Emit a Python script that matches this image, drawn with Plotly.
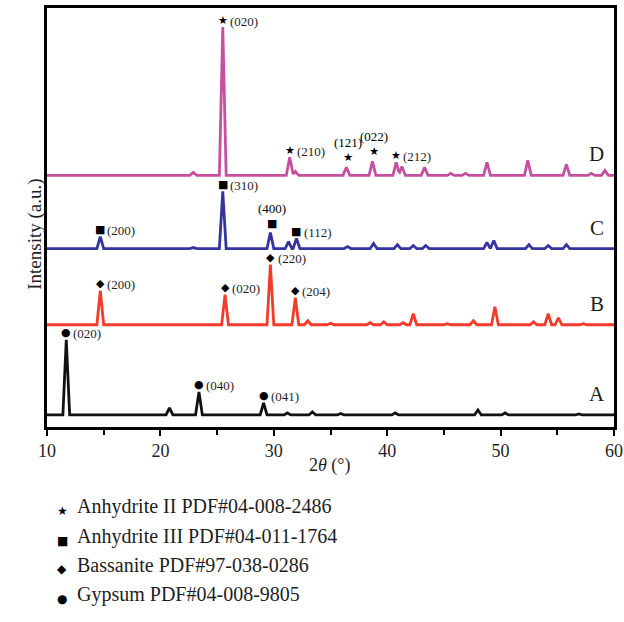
import numpy as np
import plotly.graph_objects as go

# ---- data (heights in arbitrary units) ----
two_theta_range = [10, 60]
series_names = ["A", "B", "C", "D"]
series_offsets = [12, 102, 178, 251]
series_colors = ["#111111", "#F23B2A", "#36349E", "#C6509F"]

peaks_A_pos = [11.7, 20.8, 23.4, 29.1, 31.2, 33.4, 35.9, 40.7, 48.0, 50.4, 56.9]
peaks_A_h = [75, 7, 23, 12, 2, 3, 1.5, 2, 5, 2, 1]

peaks_B_pos = [14.7, 25.7, 29.7, 31.9, 33.0, 35.0, 38.5, 39.7, 41.4, 42.3, 45.3, 47.6, 49.5, 52.9, 54.2, 55.1, 57.3]
peaks_B_h = [34, 30, 60, 27, 4, 1.5, 2, 3, 2, 11, 1, 4, 18, 3, 11, 7, 1]

peaks_C_pos = [14.7, 22.9, 25.5, 29.7, 31.3, 32.0, 36.5, 38.8, 40.9, 42.3, 43.4, 48.8, 49.4, 52.5, 54.2, 55.8]
peaks_C_h = [12, 1, 57, 16, 7, 10, 2, 5, 4, 3, 3, 6, 8, 4, 3, 4]

peaks_D_pos = [22.9, 25.5, 31.4, 31.9, 36.4, 38.7, 40.8, 41.3, 43.3, 45.6, 46.9, 48.8, 52.4, 55.8, 58.0, 59.2]
peaks_D_h = [3, 148, 18, 4, 8, 14, 13, 9, 8, 2, 2, 13, 15, 11, 2, 5]

# peak labels: (series index, 2theta, phase symbol, hkl, text above symbol?)
label_series = [3, 3, 3, 3, 3, 2, 2, 2, 2, 1, 1, 1, 1, 0, 0, 0]
label_pos = [25.5, 31.4, 36.4, 38.7, 40.8, 14.7, 25.5, 29.7, 32.0, 14.7, 25.7, 29.7, 31.9, 11.7, 23.4, 29.1]
label_sym = ["★", "★", "★", "★", "★", "■", "■", "■", "■", "◆", "◆", "◆", "◆", "●", "●", "●"]
label_hkl = ["(020)", "(210)", "(121)", "(022)", "(212)", "(200)", "(310)", "(400)", "(112)",
             "(200)", "(020)", "(220)", "(204)", "(020)", "(040)", "(041)"]
label_above = [False, False, True, True, False, False, False, True, False,
               False, False, False, False, False, False, False]

legend_symbols = ["★", "■", "◆", "●"]
legend_texts = ["Anhydrite II PDF#04-008-2486", "Anhydrite III PDF#04-011-1764",
                "Bassanite PDF#97-038-0286", "Gypsum PDF#04-008-9805"]

all_pos = [peaks_A_pos, peaks_B_pos, peaks_C_pos, peaks_D_pos]
all_h = [peaks_A_h, peaks_B_h, peaks_C_h, peaks_D_h]

HALF_W = 0.3
SERIF = "Liberation Serif, Times New Roman, serif"
TXT = "#1e1e1e"


def profile(pos, h, offset):
    # polyline vertices: baseline ends plus the feet and apex of each peak
    xs = [two_theta_range[0], two_theta_range[1]]
    for p in pos:
        xs += [p - HALF_W, p, p + HALF_W]
    xs = np.array(sorted(set(np.round(xs, 4))))
    ys = np.zeros_like(xs)
    for p, hh in zip(pos, h):
        ys += np.interp(xs, [p - HALF_W, p, p + HALF_W], [0, hh, 0], left=0, right=0)
    return xs, ys + offset


fig = go.Figure()
for i in range(4):
    x, y = profile(all_pos[i], all_h[i], series_offsets[i])
    fig.add_trace(go.Scatter(x=x, y=y, mode="lines",
                             line=dict(color=series_colors[i], width=2.8),
                             showlegend=False, hoverinfo="skip"))

annotations = []
# series letters
for i, name in enumerate(series_names):
    annotations.append(dict(x=58.5, y=series_offsets[i] + 21, xref="x", yref="y",
                            text=name, showarrow=False,
                            font=dict(family=SERIF, size=21, color=TXT)))

# peak labels
for s, p, sym, hkl, above in zip(label_series, label_pos, label_sym, label_hkl, label_above):
    h = all_h[s][all_pos[s].index(min(all_pos[s], key=lambda q: abs(q - p)))]
    top = series_offsets[s] + h
    sym_size = 11
    if above:
        annotations.append(dict(x=p + 0.1, y=top + 1, xref="x", yref="y", yanchor="bottom",
                                text=(f"<span style='font-size:13px;font-family:Liberation Serif'>{hkl}</span><br>"
                                      f"<span style='font-family:DejaVu Sans'>{sym}</span>"),
                                showarrow=False, align="center",
                                font=dict(family="DejaVu Sans", size=sym_size, color="black")))
    else:
        annotations.append(dict(x=p, y=top + 7, xref="x", yref="y", text=sym, showarrow=False,
                                font=dict(family="DejaVu Sans", size=sym_size, color="black")))
        annotations.append(dict(x=p + 0.45, y=top + 6, xref="x", yref="y", text=hkl, showarrow=False,
                                xanchor="left",
                                font=dict(family=SERIF, size=13, color=TXT)))

# axis titles
annotations.append(dict(x=0.499, y=-0.122, xref="paper", yref="paper", showarrow=False,
                        text="2<i>θ</i> (°)", font=dict(family=SERIF, size=18, color=TXT)))
annotations.append(dict(x=-0.044, y=0.459, xref="paper", yref="paper", showarrow=False,
                        text="Intensity (a.u.)", textangle=-90,
                        font=dict(family=SERIF, size=19, color=TXT)))

# phase key below chart
key_rows = [-0.2225, -0.294, -0.361, -0.431]
for sym, txt, yy in zip(legend_symbols, legend_texts, key_rows):
    annotations.append(dict(x=0.014, y=yy, xref="paper", yref="paper", showarrow=False,
                            text=sym, font=dict(family="DejaVu Sans", size=12, color="black")))
    annotations.append(dict(x=0.049, y=yy, xref="paper", yref="paper", showarrow=False,
                            xanchor="left", text=txt,
                            font=dict(family=SERIF, size=20, color=TXT)))

fig.update_layout(
    width=624, height=622, autosize=False,
    margin=dict(l=47, r=10, t=8, b=195, autoexpand=False),
    plot_bgcolor="white", paper_bgcolor="white",
    annotations=annotations,
    xaxis=dict(range=two_theta_range, dtick=10, tick0=10, automargin=False,
               showline=True, linewidth=2.5, linecolor="black", mirror=True,
               ticks="outside", ticklen=6, tickwidth=2, tickcolor="black",
               minor=dict(dtick=5, tick0=10, ticks="outside", ticklen=5, tickwidth=2, tickcolor="black"),
               showgrid=False, zeroline=False, ticklabeloverflow="allow",
               tickfont=dict(family=SERIF, size=18, color=TXT)),
    yaxis=dict(range=[0, 418], automargin=False,
               showline=True, linewidth=2.5, linecolor="black", mirror=True,
               showticklabels=False, ticks="", showgrid=False, zeroline=False),
)

# remove the browser's default 8px body margin so the figure fills the window exactly
fig.write_html("out.html",
               config={"responsive": False, "displayModeBar": False},
               post_script="document.body.style.margin='0px';")
